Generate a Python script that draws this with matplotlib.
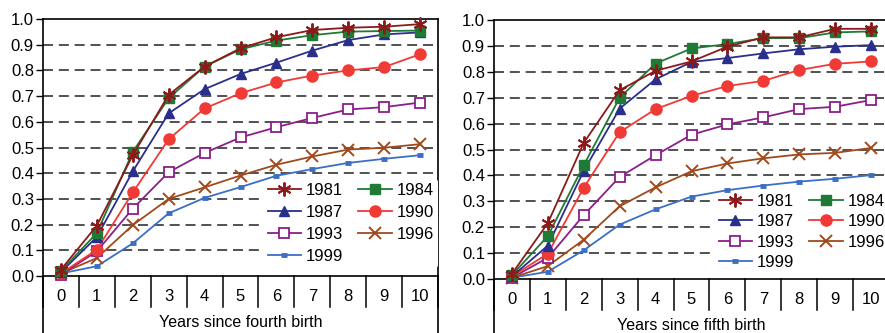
import numpy as np
import matplotlib
matplotlib.use('Agg')
import matplotlib.pyplot as plt

plt.rcParams['font.family'] = ['Liberation Sans', 'DejaVu Sans']

# years since birth (categories on the x axis)
years = list(range(11))
tick_labels = [str(y) for y in years]
cohorts = ['1981', '1984', '1987', '1990', '1993', '1996', '1999']

# Years since fourth birth
fourth_1981 = [0.025, 0.196, 0.47, 0.705, 0.815, 0.886, 0.929, 0.957, 0.966, 0.970, 0.980]
fourth_1984 = [0.020, 0.167, 0.483, 0.692, 0.815, 0.882, 0.916, 0.937, 0.951, 0.953, 0.955]
fourth_1987 = [0.015, 0.152, 0.407, 0.633, 0.727, 0.786, 0.830, 0.877, 0.918, 0.940, 0.948]
fourth_1990 = [0.010, 0.102, 0.325, 0.532, 0.652, 0.711, 0.753, 0.780, 0.800, 0.813, 0.863]
fourth_1993 = [0.005, 0.096, 0.262, 0.404, 0.479, 0.539, 0.579, 0.615, 0.648, 0.657, 0.675]
fourth_1996 = [0.010, 0.070, 0.198, 0.300, 0.345, 0.391, 0.433, 0.465, 0.492, 0.499, 0.513]
fourth_1999 = [0.010, 0.038, 0.127, 0.244, 0.304, 0.346, 0.390, 0.416, 0.440, 0.456, 0.470]

# Years since fifth birth
fifth_1981 = [0.020, 0.216, 0.526, 0.729, 0.804, 0.840, 0.897, 0.933, 0.933, 0.966, 0.966]
fifth_1984 = [0.015, 0.166, 0.440, 0.700, 0.832, 0.890, 0.907, 0.930, 0.930, 0.952, 0.956]
fifth_1987 = [0.010, 0.129, 0.418, 0.658, 0.771, 0.838, 0.853, 0.871, 0.887, 0.897, 0.903]
fifth_1990 = [0.010, 0.098, 0.353, 0.567, 0.656, 0.707, 0.745, 0.765, 0.807, 0.831, 0.840]
fifth_1993 = [0.005, 0.082, 0.247, 0.394, 0.478, 0.557, 0.597, 0.624, 0.656, 0.665, 0.691]
fifth_1996 = [0.005, 0.050, 0.152, 0.281, 0.354, 0.416, 0.446, 0.466, 0.481, 0.487, 0.506]
fifth_1999 = [0.005, 0.028, 0.111, 0.210, 0.269, 0.318, 0.343, 0.361, 0.376, 0.387, 0.401]

fourth = [fourth_1981, fourth_1984, fourth_1987, fourth_1990, fourth_1993, fourth_1996, fourth_1999]
fifth = [fifth_1981, fifth_1984, fifth_1987, fifth_1990, fifth_1993, fifth_1996, fifth_1999]

colors = ['#8c1a1a', '#1f7a35', '#2b2f8c', '#f03a35', '#8a1f8a', '#a04a1c', '#3b6fc6']
styles = [
    dict(marker=(6, 2, 0), ms=10, mew=1.4),
    dict(marker='s', ms=7.5),
    dict(marker='^', ms=7.5),
    dict(marker='o', ms=8),
    dict(marker='s', ms=7.5, mfc='white', mew=1.3),
    dict(marker='x', ms=9, mew=1.4),
    dict(marker='_', ms=5, mew=3.5),
]
# legend reads row by row: 1981 1984 / 1987 1990 / 1993 1996 / 1999
legend_order = [0, 2, 4, 6, 1, 3, 5]

fig = plt.figure(figsize=(8.85, 3.33), dpi=100)
W, H = 885, 333


def make_panel(left_px, top_px, zero_px, series, xlabel, leg_y, leg_space):
    width_px = 395
    ax = fig.add_axes([left_px / W, 1 - zero_px / H, width_px / W, (zero_px - top_px) / H])
    ax.set_xlim(-0.5, 10.5)
    ax.set_ylim(0, 1)
    lines = []
    for i, vals in enumerate(series):
        ln, = ax.plot(years, vals, color=colors[i], lw=1.3, label=cohorts[i], clip_on=False,
                      zorder=6 - i * 0.1, **styles[i])
        lines.append(ln)
    for y in np.arange(0.1, 0.95, 0.1):
        ax.axhline(y, color='#333333', lw=1.2, ls=(0, (6, 3.5)), zorder=1)
    ax.set_yticks(np.arange(0, 1.01, 0.1))
    ax.set_yticklabels([f'{v:.1f}' for v in np.arange(0, 1.01, 0.1)], fontsize=12)
    ax.tick_params(axis='y', length=5, width=1, direction='out', pad=1.5)
    ax.set_xticks([])
    for s in ax.spines.values():
        s.set_color('black')
        s.set_linewidth(1.2)
    # category table below the x axis
    for x in np.arange(-0.5, 11, 1.0):
        ax.plot([x, x], [0, -0.12], color='black', lw=1.1, clip_on=False)
    for x in (-0.5, 10.5):
        ax.plot([x, x], [0, -0.3], color='black', lw=1.2, clip_on=False)
    for x, lab in zip(years, tick_labels):
        ax.text(x, -0.08, lab, ha='center', va='center', fontsize=12)
    ax.text(5, -0.152, xlabel, ha='center', va='top', fontsize=11.5)
    leg = ax.legend([lines[k] for k in legend_order], [cohorts[k] for k in legend_order],
                    ncol=2, loc='lower right', bbox_to_anchor=(1.0, leg_y),
                    frameon=True, framealpha=1, facecolor='white', edgecolor='none',
                    fontsize=12, handlelength=2.0, handletextpad=0.3, columnspacing=0.9,
                    labelspacing=leg_space, borderpad=0.25, borderaxespad=0.0)
    leg.set_zorder(5)
    return ax


make_panel(43, 19, 276, fourth, 'Years since fourth birth', 0.03, 0.42)
make_panel(494, 20, 279, fifth, 'Years since fifth birth', 0.018, 0.33)

fig.savefig('out.png', dpi=100)
